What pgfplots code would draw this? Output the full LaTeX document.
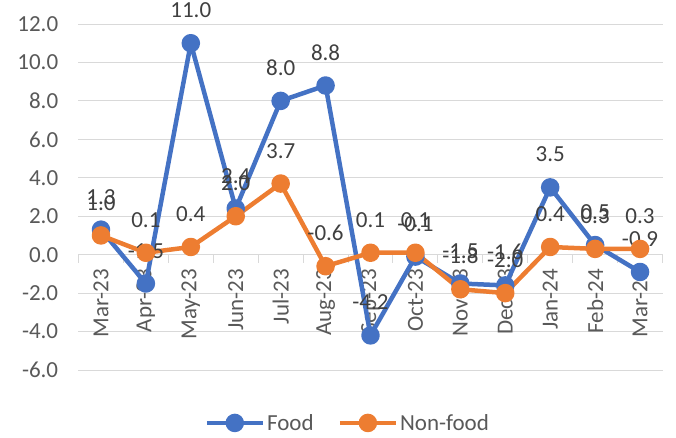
\documentclass[border=0pt]{standalone}
\usepackage{fontspec}
\setmainfont{Carlito}
\usepackage{pgfplots}
\pgfplotsset{compat=1.18}
\usepackage{pgfplotstable}

\definecolor{food}{HTML}{4472C4}
\definecolor{nonfood}{HTML}{ED7D31}
\definecolor{gridc}{HTML}{D9D9D9}
\definecolor{tickc}{HTML}{595959}
\definecolor{labc}{HTML}{404040}

% monthly change, %
\pgfplotstableread{
x  food  nonfood
0   1.3   1.0
1  -1.5   0.1
2  11.0   0.4
3   2.4   2.0
4   8.0   3.7
5   8.8  -0.6
6  -4.2   0.1
7  -0.1   0.1
8  -1.5  -1.8
9  -1.6  -2.0
10  3.5   0.4
11  0.5   0.3
12 -0.9   0.3
}\datatable

\newcommand{\chartfont}{\fontsize{23}{27}\selectfont}

\begin{document}
\begin{tikzpicture}
\begin{axis}[
    scale only axis,
    width=584pt, height=346pt,
    xmin=-0.5, xmax=12.5,
    ymin=-6, ymax=12,
    clip=false,
    axis x line=middle,
    axis y line=left,
    y axis line style={draw=none},
    x axis line style={-, draw=gridc, line width=1pt},
    ytick={-6,-4,...,12},
    yticklabels={-6.0,-4.0,-2.0,0.0,2.0,4.0,6.0,8.0,10.0,12.0},
    ytick style={draw=none},
    ymajorgrids,
    grid style={gridc, line width=1pt},
    xtick={0,...,12},
    xticklabels={Mar-23,Apr-23,May-23,Jun-23,Jul-23,Aug-23,Sep-23,Oct-23,Nov-23,Dec-23,Jan-24,Feb-24,Mar-24},
    major x tick style={draw=none},
    minor xtick={-0.5,0.5,...,12.5},
    minor x tick style={gridc, line width=1pt},
    minor tick length=8pt,
    xtick align=outside,
    tick label style={font=\chartfont, text=tickc},
    % rotated node: local x points down the page
    xticklabel style={rotate=90, anchor=east, inner sep=0pt, xshift=-10pt},
    yticklabel style={anchor=east, inner sep=0pt, xshift=-18pt},
    point meta=y,
    nodes near coords={\pgfmathprintnumber[fixed,fixed zerofill,precision=1,assume math mode=true]{\pgfplotspointmeta}},
    every node near coord/.append style={font=\chartfont, text=labc, anchor=south, inner sep=0pt, yshift=23pt},
    legend columns=2,
    legend style={at={(0.461,-0.153)}, anchor=center, draw=none, fill=none,
        font=\chartfont, text=tickc,
        /tikz/every even column/.append style={column sep=22pt}},
    legend image code/.code={\draw[mark repeat=2,mark phase=2] plot coordinates {(0pt,0pt) (28pt,0pt) (56pt,0pt)};},
]
\addplot[food, line width=4.5pt, line join=round, mark=*, mark size=7pt, mark options={solid, fill=food}]
    table[x=x, y=food] {\datatable};
\addlegendentry{Food}
\addplot[nonfood, line width=4.5pt, line join=round, mark=*, mark size=7pt, mark options={solid, fill=nonfood}]
    table[x=x, y=nonfood] {\datatable};
\addlegendentry{Non-food}
\coordinate (LL) at (rel axis cs:0,0);
\coordinate (UR) at (rel axis cs:1,1);
\end{axis}
\pgfresetboundingbox
\path[use as bounding box] ([shift={(-78.5pt,-67pt)}]LL) rectangle ([shift={(13.5pt,24pt)}]UR);
\end{tikzpicture}
\end{document}
